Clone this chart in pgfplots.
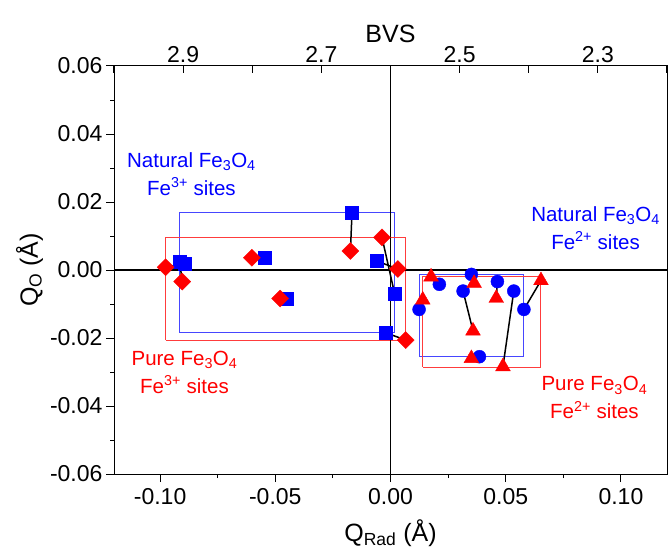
\documentclass[border=0pt]{standalone}
\usepackage{fontspec}
\setmainfont{Liberation Sans}
\usepackage{pgfplots}
\pgfplotsset{compat=1.18}
\definecolor{nblue}{RGB}{0,0,255}
\definecolor{pred}{RGB}{255,0,0}
\definecolor{boxblue}{RGB}{70,70,255}
\definecolor{boxred}{RGB}{255,60,60}
\newcommand{\tickfont}{\fontsize{23}{27}\selectfont}
\newcommand{\labfont}{\fontsize{25}{29}\selectfont}
\newcommand{\notefont}{\fontsize{20.5}{28}\selectfont}

\begin{document}
\begin{tikzpicture}
% top axis: bond valence sum
\begin{axis}[
  scale only axis, width=553pt, height=408pt,
  xmin=2.2, xmax=3.0, x dir=reverse,
  ymin=0, ymax=1, hide y axis,
  axis x line*=top, axis line style={line width=1pt},
  xtick={2.3,2.5,2.7,2.9}, minor xtick={2.2,2.4,2.6,2.8,3.0},
  tick align=inside, major tick length=7pt, minor tick length=7pt,
  tick style={black, line width=1pt},
  xticklabel style={font=\tickfont},
  scaled x ticks=false,
  /pgf/number format/.cd, fixed, fixed zerofill, precision=1, assume math mode=true,
  /pgfplots/.cd,
  xlabel={BVS}, xlabel style={font=\labfont, yshift=-3pt},
]
\end{axis}
\begin{axis}[
  scale only axis, width=553pt, height=408pt,
  xmin=-0.12, xmax=0.12, ymin=-0.06, ymax=0.06,
  xtick={-0.1,-0.05,0,0.05,0.1},
  ytick={-0.06,-0.04,-0.02,0,0.02,0.04,0.06},
  scaled x ticks=false, scaled y ticks=false,
  minor x tick num=1, minor y tick num=1,
  xtick pos=bottom, ytick pos=left, tick align=outside,
  major tick length=8pt, minor tick length=4pt,
  tick style={black, line width=1pt},
  axis line style={line width=1pt},
  tick label style={font=\tickfont},
  xticklabel style={yshift=-3pt},
  /pgf/number format/.cd, fixed, fixed zerofill, precision=2, assume math mode=true,
  /pgfplots/.cd,
  xlabel={Q\textsubscript{Rad} (Å)}, ylabel={Q\textsubscript{O} (Å)},
  label style={font=\labfont},
  xlabel style={yshift=-8pt},
  clip=false,
]
\coordinate (sw) at (rel axis cs:0,0);
\coordinate (ne) at (rel axis cs:1,1);

% bounding boxes of each set of sites
\addplot[boxblue, line width=1pt] coordinates {(-0.0915,-0.0184) (0.0018,-0.0184) (0.0018,0.0170) (-0.0915,0.0170) (-0.0915,-0.0184)};
\addplot[boxred, line width=1pt] coordinates {(-0.0976,-0.0206) (0.0066,-0.0206) (0.0066,0.0096) (-0.0976,0.0096) (-0.0976,-0.0206)};
\addplot[boxblue, line width=1pt] coordinates {(0.0124,-0.0255) (0.0579,-0.0255) (0.0579,-0.0013) (0.0124,-0.0013) (0.0124,-0.0255)};
\addplot[boxred, line width=1pt] coordinates {(0.0140,-0.0286) (0.0653,-0.0286) (0.0653,-0.0020) (0.0140,-0.0020) (0.0140,-0.0286)};

% zero lines
\addplot[black, line width=1.5pt] coordinates {(-0.12,0) (0.12,0)};
\addplot[black, line width=1.5pt] coordinates {(0,-0.06) (0,0.06)};

% natural Fe3O4, Fe3+ sites
\addplot[only marks, mark=square*, mark size=6.5pt, nblue, mark options={draw=nblue, fill=nblue}] coordinates {
(-0.0915,0.0025) (-0.0894,0.0020) (-0.0546,0.0036) (-0.0452,-0.0085)
(-0.0167,0.0170) (-0.0062,0.0027) (0.0018,-0.0070) (-0.0023,-0.0184)};
% pure Fe3O4, Fe3+ sites
\addplot[only marks, mark=square*, mark size=6pt, pred, mark options={draw=pred, fill=pred, rotate=45}] coordinates {
(-0.0976,0.0008) (-0.0904,-0.0034) (-0.0602,0.0036) (-0.0479,-0.0084)
(-0.0174,0.0056) (-0.0037,0.0096) (0.0032,0.0003) (0.0066,-0.0206)};
% natural Fe3O4, Fe2+ sites
\addplot[only marks, mark=*, mark size=6.5pt, nblue, mark options={draw=nblue, fill=nblue}] coordinates {
(0.0124,-0.0116) (0.0212,-0.0042) (0.0351,-0.0013) (0.0315,-0.0062)
(0.0464,-0.0034) (0.0535,-0.0062) (0.0579,-0.0116) (0.0386,-0.0255)};
% pure Fe3O4, Fe2+ sites
\addplot[only marks, mark=triangle*, mark size=8.5pt, pred, mark options={draw=pred, fill=pred}] coordinates {
(0.0140,-0.0088) (0.0176,-0.0020) (0.0363,-0.0039) (0.0459,-0.0083)
(0.0358,-0.0179) (0.0351,-0.0260) (0.0488,-0.0284) (0.0653,-0.0031)};

% pairs natural -> pure
\addplot[black, line width=1.5pt, unbounded coords=jump] coordinates {
(-0.0915,0.0025) (-0.0904,-0.0034) (nan,nan)
(-0.0894,0.0020) (-0.0976,0.0008) (nan,nan)
(-0.0546,0.0036) (-0.0602,0.0036) (nan,nan)
(-0.0452,-0.0085) (-0.0479,-0.0084) (nan,nan)
(-0.0167,0.0170) (-0.0174,0.0056) (nan,nan)
(-0.0062,0.0027) (0.0032,0.0003) (nan,nan)
(0.0018,-0.0070) (-0.0037,0.0096) (nan,nan)
(-0.0023,-0.0184) (0.0066,-0.0206) (nan,nan)
(0.0124,-0.0116) (0.0140,-0.0088) (nan,nan)
(0.0212,-0.0042) (0.0176,-0.0020) (nan,nan)
(0.0351,-0.0013) (0.0363,-0.0039) (nan,nan)
(0.0315,-0.0062) (0.0358,-0.0179) (nan,nan)
(0.0464,-0.0034) (0.0459,-0.0083) (nan,nan)
(0.0535,-0.0062) (0.0488,-0.0284) (nan,nan)
(0.0579,-0.0116) (0.0653,-0.0031) (nan,nan)
(0.0386,-0.0255) (0.0351,-0.0260)};

\node[nblue, align=center, font=\notefont] at (axis cs:-0.0864,0.0282) {Natural Fe\textsubscript{3}O\textsubscript{4}\\Fe\textsuperscript{3+} sites};
\node[nblue, align=center, font=\notefont] at (axis cs:0.089,0.0124) {Natural Fe\textsubscript{3}O\textsubscript{4}\\Fe\textsuperscript{2+} sites};
\node[pred, align=center, font=\notefont] at (axis cs:-0.0894,-0.0300) {Pure Fe\textsubscript{3}O\textsubscript{4}\\Fe\textsuperscript{3+} sites};
\node[pred, align=center, font=\notefont] at (axis cs:0.0885,-0.0376) {Pure Fe\textsubscript{3}O\textsubscript{4}\\Fe\textsuperscript{2+} sites};
\end{axis}
\pgfresetboundingbox
\path[use as bounding box] ([shift={(-114pt,-77pt)}]sw) rectangle ([shift={(3pt,66pt)}]ne);
\end{tikzpicture}
\end{document}
